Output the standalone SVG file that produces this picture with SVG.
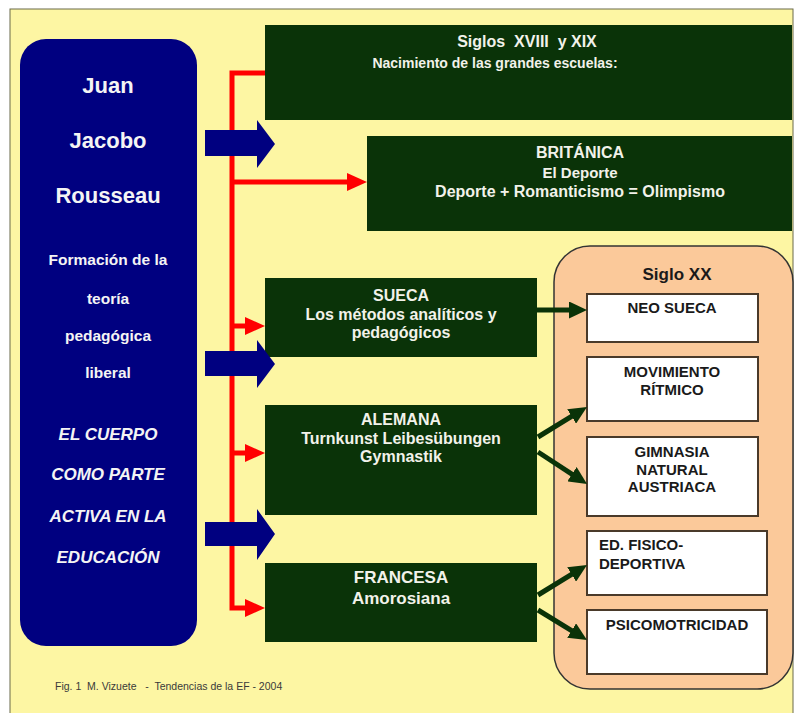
<svg xmlns="http://www.w3.org/2000/svg" width="794" height="713" viewBox="0 0 794 713">
<defs>
<style>
.t{font-family:"Liberation Sans",Arial,sans-serif;font-weight:bold;text-anchor:middle}
.w{fill:#f2f2ea}
.bl{fill:#f4f4f4}
.it{font-style:italic}
.gb{fill:#0a3308}
.wb{fill:#ffffff;stroke:#4a3a2a;stroke-width:2}
.red{fill:none;stroke:#ff0000;stroke-width:5}
.grn{fill:none;stroke:#0a3308;stroke-width:5}
.blu{fill:#000080}
.k{fill:#1a1a1a}
</style>
<marker id="ra" viewBox="0 0 20 18" refX="10" refY="9" markerWidth="20" markerHeight="18" markerUnits="userSpaceOnUse" orient="auto"><path d="M0,0 L20,9 L0,18 Z" fill="#ff0000"/></marker>
<marker id="ga" viewBox="0 0 18 17" refX="9" refY="8.5" markerWidth="18" markerHeight="17" markerUnits="userSpaceOnUse" orient="auto"><path d="M0,0 L18,8.5 L0,17 Z" fill="#0a3308"/></marker>
</defs>
<rect x="0" y="0" width="794" height="713" fill="#ffffff"/>
<rect x="10" y="9" width="783" height="710" fill="#fdf6a3" stroke="#6b6b4a" stroke-width="1"/>

<g id="rousseau">
<rect x="20" y="39" width="177" height="607" rx="26" class="blu"/>
<text class="t bl" x="108" y="93" font-size="22">Juan</text>
<text class="t bl" x="108" y="148" font-size="22">Jacobo</text>
<text class="t bl" x="108" y="203" font-size="22">Rousseau</text>
<text class="t bl" x="108" y="265" font-size="15.5">Formación de la</text>
<text class="t bl" x="108" y="304" font-size="15.5">teoría</text>
<text class="t bl" x="108" y="341" font-size="15.5">pedagógica</text>
<text class="t bl" x="108" y="378" font-size="15.5">liberal</text>
<text class="t bl it" x="108" y="440" font-size="17">EL CUERPO</text>
<text class="t bl it" x="108" y="480" font-size="17">COMO PARTE</text>
<text class="t bl it" x="108" y="522" font-size="17">ACTIVA EN LA</text>
<text class="t bl it" x="108" y="563" font-size="17">EDUCACIÓN</text>
</g>

<g id="siglos">
<rect x="265" y="25" width="527" height="95" class="gb"/>
<text class="t w" x="527" y="47" font-size="16" xml:space="preserve">Siglos  XVIII  y XIX</text>
<text class="t w" x="495" y="68" font-size="14">Nacimiento de las grandes escuelas:</text>
</g>

<g id="britanica">
<rect x="367" y="136" width="425" height="95" class="gb"/>
<text class="t w" x="580" y="158" font-size="16">BRITÁNICA</text>
<text class="t w" x="580" y="178" font-size="15">El Deporte</text>
<text class="t w" x="580" y="197" font-size="16">Deporte + Romanticismo = Olimpismo</text>
</g>

<g id="sueca">
<rect x="265" y="278" width="272" height="79" class="gb"/>
<text class="t w" x="401" y="301" font-size="16">SUECA</text>
<text class="t w" x="401" y="320" font-size="16">Los métodos analíticos y</text>
<text class="t w" x="401" y="338" font-size="16">pedagógicos</text>
</g>

<g id="alemana">
<rect x="265" y="405" width="272" height="110" class="gb"/>
<text class="t w" x="401" y="425" font-size="16">ALEMANA</text>
<text class="t w" x="401" y="444" font-size="16">Turnkunst Leibesübungen</text>
<text class="t w" x="401" y="462" font-size="16">Gymnastik</text>
</g>

<g id="francesa">
<rect x="265" y="563" width="272" height="79" class="gb"/>
<text class="t w" x="401" y="583" font-size="17">FRANCESA</text>
<text class="t w" x="401" y="604" font-size="17">Amorosiana</text>
</g>

<g id="siglo-xx">
<rect x="554" y="246" width="239" height="443" rx="36" fill="#fbc99a" stroke="#333333" stroke-width="1.5"/>
<text class="t k" x="677" y="280" font-size="17">Siglo XX</text>
</g>

<g id="neo-sueca">
<rect x="587" y="294" width="171" height="48" class="wb"/>
<text class="t k" x="672" y="313" font-size="15">NEO SUECA</text>
</g>
<g id="movimiento-ritmico">
<rect x="587" y="357" width="171" height="64" class="wb"/>
<text class="t k" x="672" y="377" font-size="15">MOVIMIENTO</text>
<text class="t k" x="672" y="395" font-size="15">RÍTMICO</text>
</g>
<g id="gimnasia-natural">
<rect x="587" y="437" width="171" height="79" class="wb"/>
<text class="t k" x="672" y="457" font-size="15">GIMNASIA</text>
<text class="t k" x="672" y="475" font-size="15">NATURAL</text>
<text class="t k" x="672" y="492" font-size="15">AUSTRIACA</text>
</g>
<g id="ed-fisico-deportiva">
<rect x="587" y="531" width="180" height="64" class="wb"/>
<text class="t k" x="599" y="550" font-size="15" style="text-anchor:start">ED. FISICO-</text>
<text class="t k" x="599" y="569" font-size="15" style="text-anchor:start">DEPORTIVA</text>
</g>
<g id="psicomotricidad">
<rect x="587" y="610" width="180" height="64" class="wb"/>
<text class="t k" x="677" y="630" font-size="15">PSICOMOTRICIDAD</text>
</g>

<g id="connectors">
<path class="red" d="M265,73 H232 V608 H255" marker-end="url(#ra)"/>
<path class="red" d="M232,182 H357" marker-end="url(#ra)"/>
<path class="red" d="M232,326 H255" marker-end="url(#ra)"/>
<path class="red" d="M232,453 H255" marker-end="url(#ra)"/>
<polygon class="blu" points="205,130 257,130 257,120 275,144 257,168 257,156 205,156"/>
<polygon class="blu" points="205,351 257,351 257,340 275,364 257,388 257,376 205,376"/>
<polygon class="blu" points="205,522 257,522 257,509 275,534 257,560 257,546 205,546"/>
<path class="grn" d="M537,310 H578" marker-end="url(#ga)"/>
<path class="grn" d="M538,437 L579.3,411.7" marker-end="url(#ga)"/>
<path class="grn" d="M538,452 L579.5,479.1" marker-end="url(#ga)"/>
<path class="grn" d="M538,595 L579.3,569.7" marker-end="url(#ga)"/>
<path class="grn" d="M538,610 L579.3,635.3" marker-end="url(#ga)"/>
</g>

<text x="55" y="690" font-family="Liberation Sans, Arial, sans-serif" font-size="10.5" fill="#3a3a3a" xml:space="preserve">Fig. 1  M. Vizuete   -  Tendencias de la EF - 2004</text>
</svg>
